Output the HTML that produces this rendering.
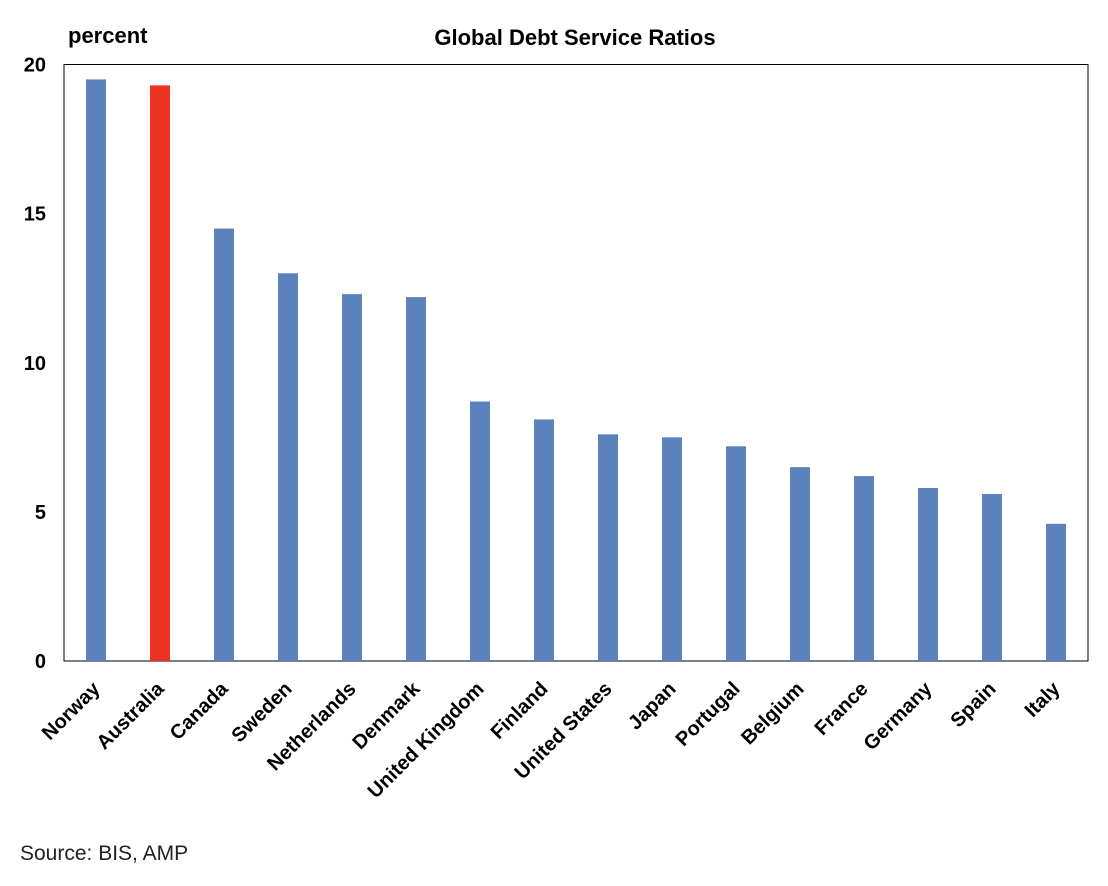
<!DOCTYPE html>
<html><head><meta charset="utf-8"><style>
body{margin:0;background:#fff;}
svg{display:block;font-family:"Liberation Sans",Arial,sans-serif;}
</style></head><body>
<svg id="chart" width="1108" height="886">
<rect x="0" y="0" width="1108" height="886" fill="#fff"/>
<text x="575" y="45" text-anchor="middle" font-size="22" font-weight="bold">Global Debt Service Ratios</text>
<text x="68" y="43" font-size="22" font-weight="bold">percent</text>
<rect x="64" y="64.5" width="1024" height="596.5" fill="none" stroke="#000" stroke-width="1"/>
<g id="bars"></g><g id="yticks"></g><g id="xlabels"></g>
<text x="20" y="860" font-size="21" fill="#222" font-weight="300">Source: BIS, AMP</text>
</svg>
<script>
const categories=["Norway","Australia","Canada","Sweden","Netherlands","Denmark","United Kingdom","Finland","United States","Japan","Portugal","Belgium","France","Germany","Spain","Italy"];
const values=[19.5,19.3,14.5,13.0,12.3,12.2,8.7,8.1,7.6,7.5,7.2,6.5,6.2,5.8,5.6,4.6];
const highlight=["Australia"];
const yTicks=[0,5,10,15,20];
const NS="http://www.w3.org/2000/svg";
const plotLeft=64,plotRight=1088,plotTop=64.5,plotBottom=661,ymax=20;
const yScale=v=>plotBottom-(v/ymax)*(plotBottom-plotTop);
const band=(plotRight-plotLeft)/categories.length;
const xScale=i=>plotLeft+band*i+band/2;
const bw=20;
const barsG=document.getElementById('bars'),ytG=document.getElementById('yticks'),xlG=document.getElementById('xlabels');
categories.forEach((c,i)=>{
  const r=document.createElementNS(NS,'rect');
  r.setAttribute('x',xScale(i)-bw/2);r.setAttribute('y',yScale(values[i]));
  r.setAttribute('width',bw);r.setAttribute('height',plotBottom-yScale(values[i]));
  r.setAttribute('fill',highlight.includes(c)?'#ea3323':'#5b82bd');
  
  
  barsG.appendChild(r);
  const t=document.createElementNS(NS,'text');
  const tx=xScale(i)+5,ty=690;
  t.setAttribute('x',tx);t.setAttribute('y',ty);
  t.setAttribute('text-anchor','end');t.setAttribute('font-size','20');t.setAttribute('font-weight','bold');
  t.setAttribute('transform','rotate(-45 '+tx+' '+ty+')');
  t.textContent=c;
  
  
  xlG.appendChild(t);
});
yTicks.forEach(v=>{
  const t=document.createElementNS(NS,'text');
  t.setAttribute('x',46);t.setAttribute('y',yScale(v)+7);
  t.setAttribute('text-anchor','end');t.setAttribute('font-size','20');t.setAttribute('font-weight','bold');
  t.textContent=v;
  
  
  ytG.appendChild(t);
});
</script>
</body></html>
